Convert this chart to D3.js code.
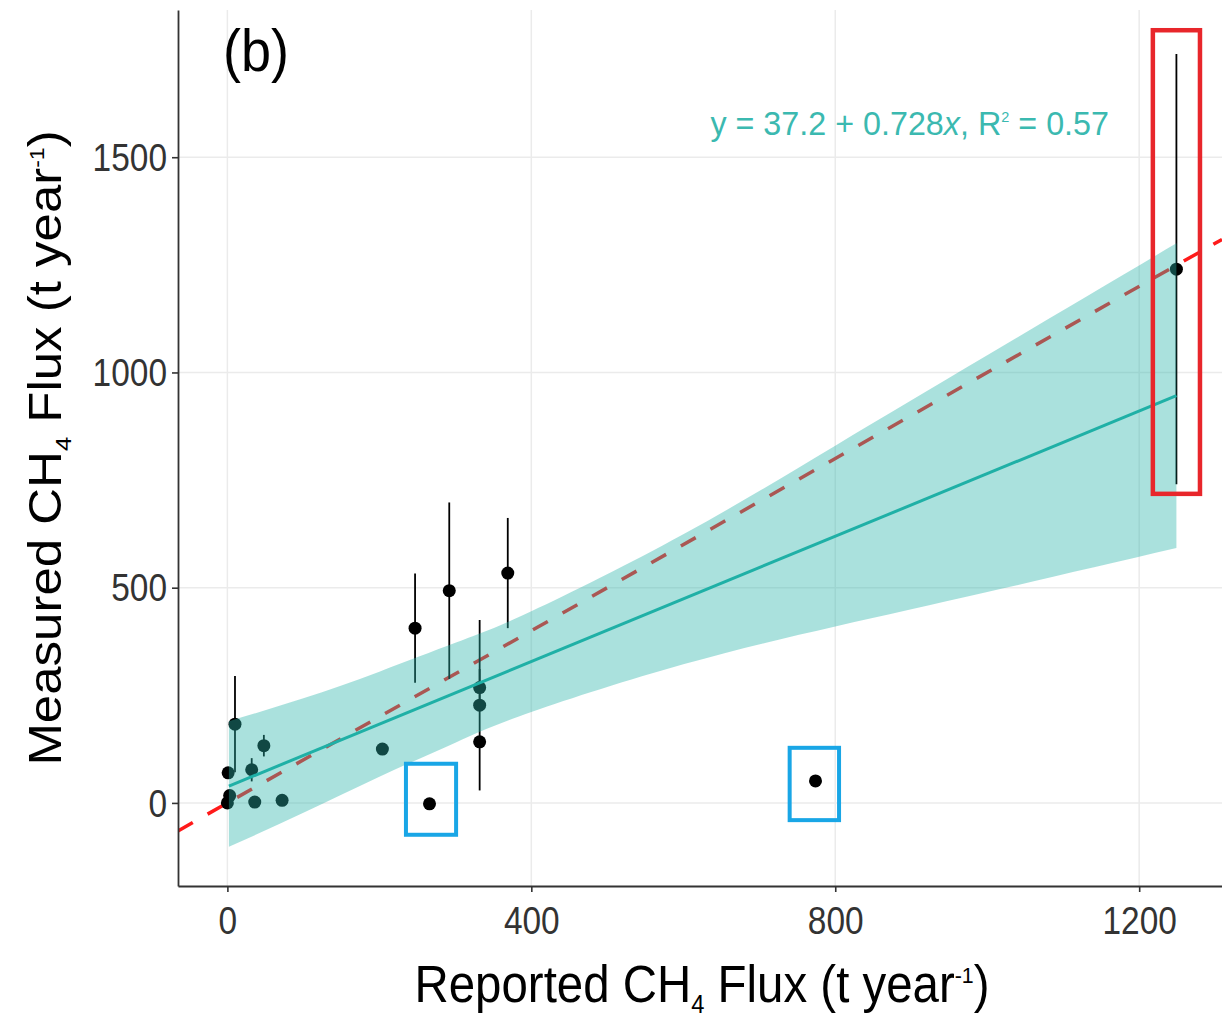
<!DOCTYPE html>
<html>
<head>
<meta charset="utf-8">
<script src="https://cdn.jsdelivr.net/npm/d3@7"></script>
<style>
  body { margin: 0; background: #fff; }
  text { font-family: "Liberation Sans", Arial, sans-serif; }
</style>
</head>
<body>
<div id="chart"></div>
<script>
// reported vs measured CH4 flux, one entry per site (t / year)
const reportedFlux = [0, 3, 1, 10, 32, 48, 36, 72, 204, 266, 247, 292, 369, 332, 332, 332, 774, 1249];
const measuredFlux = [0, 17, 70, 183, 77, 133, 2, 6, 125, -2, 406, 493, 534, 268, 227, 142, 51, 1240];
const measuredErr = [0, 0, 0, 112, 27, 25, 0, 0, 0, 0, 127, 205, 128, 43, 198, 0, 0, 500];

// fitted line and its confidence band
const fitX = [2, 1249];
const fitY = [39, 946];
const bandX = [2, 100, 200, 300, 400, 600, 800, 1000, 1249];
const bandLow = [-102, -23, 61, 140, 211, 322, 410, 490, 592];
const bandHigh = [190, 243, 305, 372, 445, 624, 830, 1040, 1300];

// highlight boxes (data units)
const boxKind = ["low", "low", "high"];
const boxXMin = [235, 740, 1218];
const boxXMax = [301, 805, 1280];
const boxYMin = [-74, -40, 718];
const boxYMax = [91, 128, 1795];

const xTicks = [0, 400, 800, 1200];
const yTicks = [0, 500, 1000, 1500];
const equationLabel = "y = 37.2 + 0.728x, R2 = 0.57";

const colors = {
  grid: "#ebebeb",
  axis: "#333333",
  tickText: "#333333",
  point: "#000000",
  band: "#2bb5ab",
  fit: "#1fb0a6",
  equation: "#3bb9b0",
  oneToOne: "#ff1a1a",
  low: "#19a6e6",
  high: "#e8262b",
};

const width = 1222, height = 1018;
const plot = { left: 178, top: 10, right: 1222, bottom: 886 };

const svg = d3.select("#chart").append("svg")
  .attr("width", width)
  .attr("height", height);

const x = d3.scaleLinear().domain([-65, 1309]).range([plot.left, plot.right]);
const y = d3.scaleLinear().domain([-193, 1842]).range([plot.bottom, plot.top]);

svg.append("clipPath").attr("id", "plotClip")
  .append("rect")
  .attr("x", plot.left).attr("y", plot.top)
  .attr("width", plot.right - plot.left)
  .attr("height", plot.bottom - plot.top);

// grid
const grid = svg.append("g");
grid.selectAll(".gx").data(xTicks).join("line")
  .attr("x1", d => x(d)).attr("x2", d => x(d))
  .attr("y1", plot.top).attr("y2", plot.bottom)
  .attr("stroke", colors.grid).attr("stroke-width", 1.5);
grid.selectAll(".gy").data(yTicks).join("line")
  .attr("y1", d => y(d)).attr("y2", d => y(d))
  .attr("x1", plot.left).attr("x2", plot.right)
  .attr("stroke", colors.grid).attr("stroke-width", 1.5);

const body = svg.append("g").attr("clip-path", "url(#plotClip)");

// 1:1 line, sits under the band
body.append("line")
  .attr("x1", x(-65)).attr("y1", y(-65))
  .attr("x2", x(1309)).attr("y2", y(1309))
  .attr("stroke", colors.oneToOne)
  .attr("stroke-width", 3.5)
  .attr("stroke-dasharray", "17,17");

const sites = reportedFlux.map((r, i) => ({ r, m: measuredFlux[i], e: measuredErr[i] }));

body.append("g").selectAll("line")
  .data(sites.filter(d => d.e > 0))
  .join("line")
  .attr("x1", d => x(d.r)).attr("x2", d => x(d.r))
  .attr("y1", d => y(d.m - d.e)).attr("y2", d => y(d.m + d.e))
  .attr("stroke", colors.point)
  .attr("stroke-width", 1.8);

body.append("g").selectAll("circle")
  .data(sites)
  .join("circle")
  .attr("cx", d => x(d.r))
  .attr("cy", d => y(d.m))
  .attr("r", 6.5)
  .attr("fill", colors.point);

// confidence band over the points
const band = bandX.map((bx, i) => ({ bx, lo: bandLow[i], hi: bandHigh[i] }));
body.append("path")
  .datum(band)
  .attr("d", d3.area()
    .x(d => x(d.bx))
    .y0(d => y(d.lo))
    .y1(d => y(d.hi))
    .curve(d3.curveNatural))
  .attr("fill", colors.band)
  .attr("fill-opacity", 0.4);

body.append("line")
  .attr("x1", x(fitX[0])).attr("y1", y(fitY[0]))
  .attr("x2", x(fitX[1])).attr("y2", y(fitY[1]))
  .attr("stroke", colors.fit)
  .attr("stroke-width", 3);

// highlight boxes
svg.append("g").selectAll("rect")
  .data(boxKind.map((k, i) => ({ k, x0: boxXMin[i], x1: boxXMax[i], y0: boxYMin[i], y1: boxYMax[i] })))
  .join("rect")
  .attr("x", d => x(d.x0))
  .attr("y", d => y(d.y1))
  .attr("width", d => x(d.x1) - x(d.x0))
  .attr("height", d => y(d.y0) - y(d.y1))
  .attr("fill", "none")
  .attr("stroke", d => colors[d.k])
  .attr("stroke-width", d => d.k === "high" ? 4.5 : 4);

// axes
const tickFont = 38, tickSquish = 0.88;

const xAxis = svg.append("g")
  .attr("transform", `translate(0,${plot.bottom})`)
  .call(d3.axisBottom(x).tickValues(xTicks).tickSize(6).tickSizeOuter(0).tickFormat(d3.format("d")));
xAxis.selectAll("text")
  .attr("y", 0).attr("dy", null)
  .attr("transform", `translate(0,48) scale(${tickSquish},1)`);

const yAxis = svg.append("g")
  .attr("transform", `translate(${plot.left},0)`)
  .call(d3.axisLeft(y).tickValues(yTicks).tickSize(6).tickSizeOuter(0).tickFormat(d3.format("d")));
yAxis.selectAll("text")
  .attr("x", 0).attr("dy", "0.35em")
  .attr("transform", `translate(-11,0) scale(${tickSquish},1)`);

svg.selectAll(".domain").attr("stroke", colors.axis).attr("stroke-width", 1.8);
svg.selectAll(".tick line").attr("stroke", colors.axis).attr("stroke-width", 1.6);
svg.selectAll(".tick text")
  .attr("font-family", "'Liberation Sans', Arial, sans-serif")
  .attr("font-size", tickFont)
  .attr("fill", colors.tickText);

// text with sub/superscripts: parts = [text, kind]
function richText(g, parts, fontSize) {
  const t = g.append("text").attr("font-size", fontSize);
  let shift = 0;
  parts.forEach(([s, kind]) => {
    const target = kind === "sub" ? 0.22 * fontSize : kind === "sup" ? -0.38 * fontSize : 0;
    const ts = t.append("tspan").text(s).attr("dy", target - shift);
    if (kind === "sub") ts.attr("font-size", fontSize * 0.5);
    if (kind === "sup") ts.attr("font-size", fontSize * 0.45);
    if (kind === "it") ts.attr("font-style", "italic");
    shift = target;
  });
  return t;
}

const titleFont = 51;
richText(
  svg.append("g").attr("transform", "translate(702,1002) scale(0.93,1)"),
  [["Reported CH", ""], ["4", "sub"], [" Flux (t year", ""], ["-1", "sup"], [")", ""]],
  titleFont
).attr("text-anchor", "middle").attr("fill", "#000");

richText(
  svg.append("g").attr("transform", "translate(61,448) rotate(-90) scale(1,0.9)"),
  [["Measured CH", ""], ["4", "sub"], [" Flux (t year", ""], ["-1", "sup"], [")", ""]],
  titleFont
).attr("text-anchor", "middle").attr("fill", "#000");

svg.append("g").attr("transform", "translate(223,71) scale(0.9,1)")
  .append("text")
  .attr("font-size", 60)
  .attr("fill", "#000")
  .text("(b)");

// equation label, split around the italic x and the squared R
const eqA = equationLabel.split("x, R2")[0];
const eqB = equationLabel.split("R2")[1];
richText(
  svg.append("g").attr("transform", "translate(1109,135) scale(0.95,1)"),
  [[eqA, ""], ["x", "it"], [", R", ""], ["2", "sup"], [eqB, ""]],
  34
).attr("text-anchor", "end").attr("fill", colors.equation);
</script>
</body>
</html>
